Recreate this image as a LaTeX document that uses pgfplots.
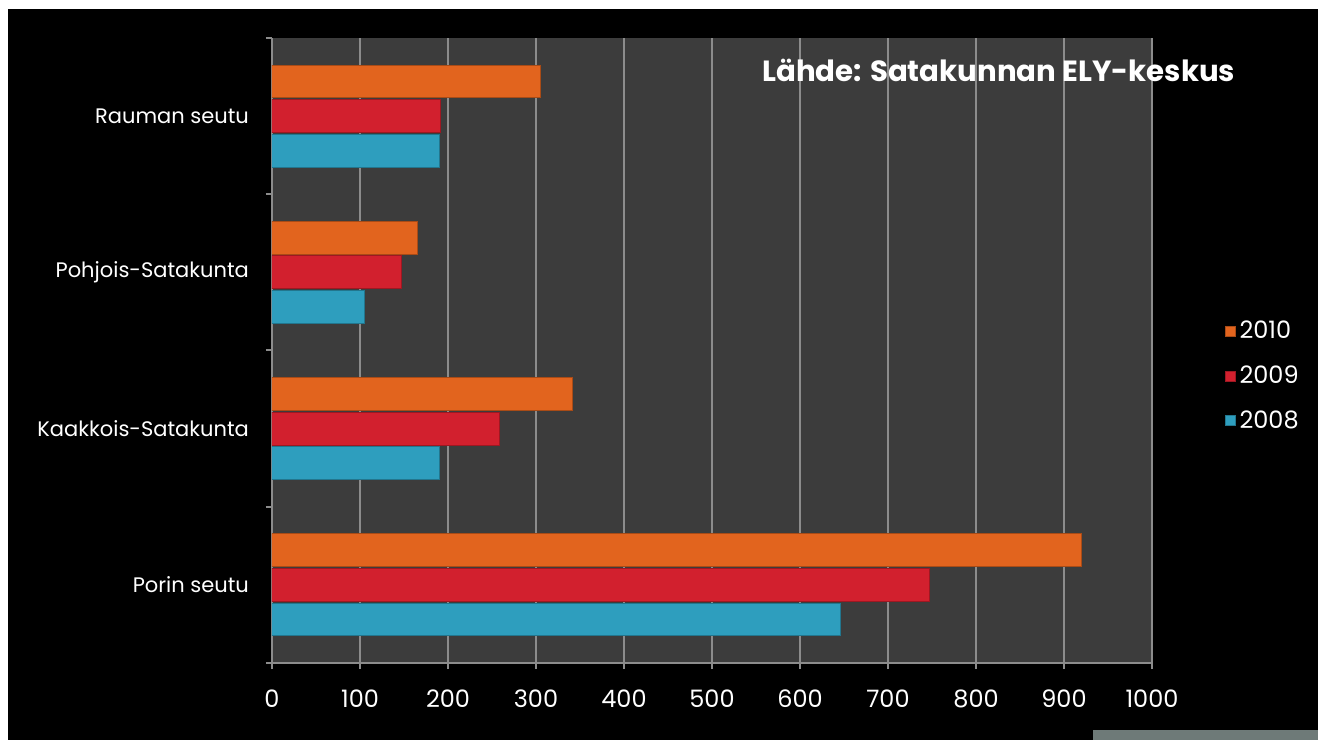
\documentclass[border=0pt]{standalone}
\usepackage{fontspec}
\setmainfont{Poppins}
\usepackage{pgfplots}
\pgfplotsset{compat=1.18}
\definecolor{bgplot}{HTML}{3C3C3C}
\definecolor{gridc}{HTML}{8C8C8C}
\definecolor{c2010}{HTML}{E2641E}
\definecolor{c2009}{HTML}{D2202E}
\definecolor{c2008}{HTML}{2E9EBE}
\definecolor{slidegray}{HTML}{6E7A78}
\begin{document}
\begin{tikzpicture}
% slide background (1 px = 0.5pt)
\begin{scope}[x=0.5pt,y=0.5pt]
\fill[white] (0,0) rectangle (1318,740);
\fill[black] (8,0) rectangle (1318,731);
\fill[slidegray] (1093,0) rectangle (1318,10);
\end{scope}
\begin{axis}[
  at={(136pt,38.5pt)}, anchor=south west,
  scale only axis, width=440pt, height=312.5pt,
  xbar,
  xmin=0, xmax=1000, ymin=-0.5, ymax=3.5,
  axis background/.style={fill=bgplot},
  axis lines*=left,
  axis line style={gridc, line width=1pt},
  xtick={0,100,...,1000},
  xmajorgrids, grid style={gridc, line width=1pt},
  ytick={0,1,2,3},
  yticklabels={Porin seutu, Kaakkois-Satakunta, Pohjois-Satakunta, Rauman seutu},
  minor ytick={-0.5,0.5,1.5,2.5,3.5},
  tick align=outside,
  major tick length=3pt, minor tick length=3pt,
  major x tick style={gridc, line width=1pt},
  major y tick style={draw=none},
  minor y tick style={gridc, line width=1pt},
  /pgf/number format/assume math mode=true,
  /pgf/number format/1000 sep={},
  xticklabel style={text=white, font=\fontsize{12}{14}\selectfont, yshift=-7pt},
  yticklabel style={text=white, font=\fontsize{10.5}{12}\selectfont, xshift=-5pt},
  legend style={at={(1.082,0.459)}, anchor=west, draw=none, fill=none,
    text=white, font=\fontsize{12}{14}\selectfont, row sep=8pt, inner sep=0pt},
  legend cell align=left,
  legend image code/.code={\fill[#1] (0pt,-2.5pt) rectangle (5pt,2.5pt);},
]
\addplot[fill=c2010, draw=c2010!75!black, line width=0.5pt, bar width=0.21, bar shift=0.221]
  coordinates {(920,0) (341,1) (165,2) (305,3)};
\addplot[fill=c2009, draw=c2009!75!black, line width=0.5pt, bar width=0.21, bar shift=0]
  coordinates {(747,0) (259,1) (147,2) (191,3)};
\addplot[fill=c2008, draw=c2008!75!black, line width=0.5pt, bar width=0.21, bar shift=-0.221]
  coordinates {(646,0) (190,1) (105,2) (190,3)};
\legend{2010, 2009, 2008}
\end{axis}
\begin{scope}[x=0.5pt,y=0.5pt]
\node[anchor=west, inner sep=0pt, text=white, font=\fontsize{14.6}{17}\selectfont\bfseries]
  at (762,670) {Lähde: Satakunnan ELY-keskus};
\end{scope}
\end{tikzpicture}
\end{document}
